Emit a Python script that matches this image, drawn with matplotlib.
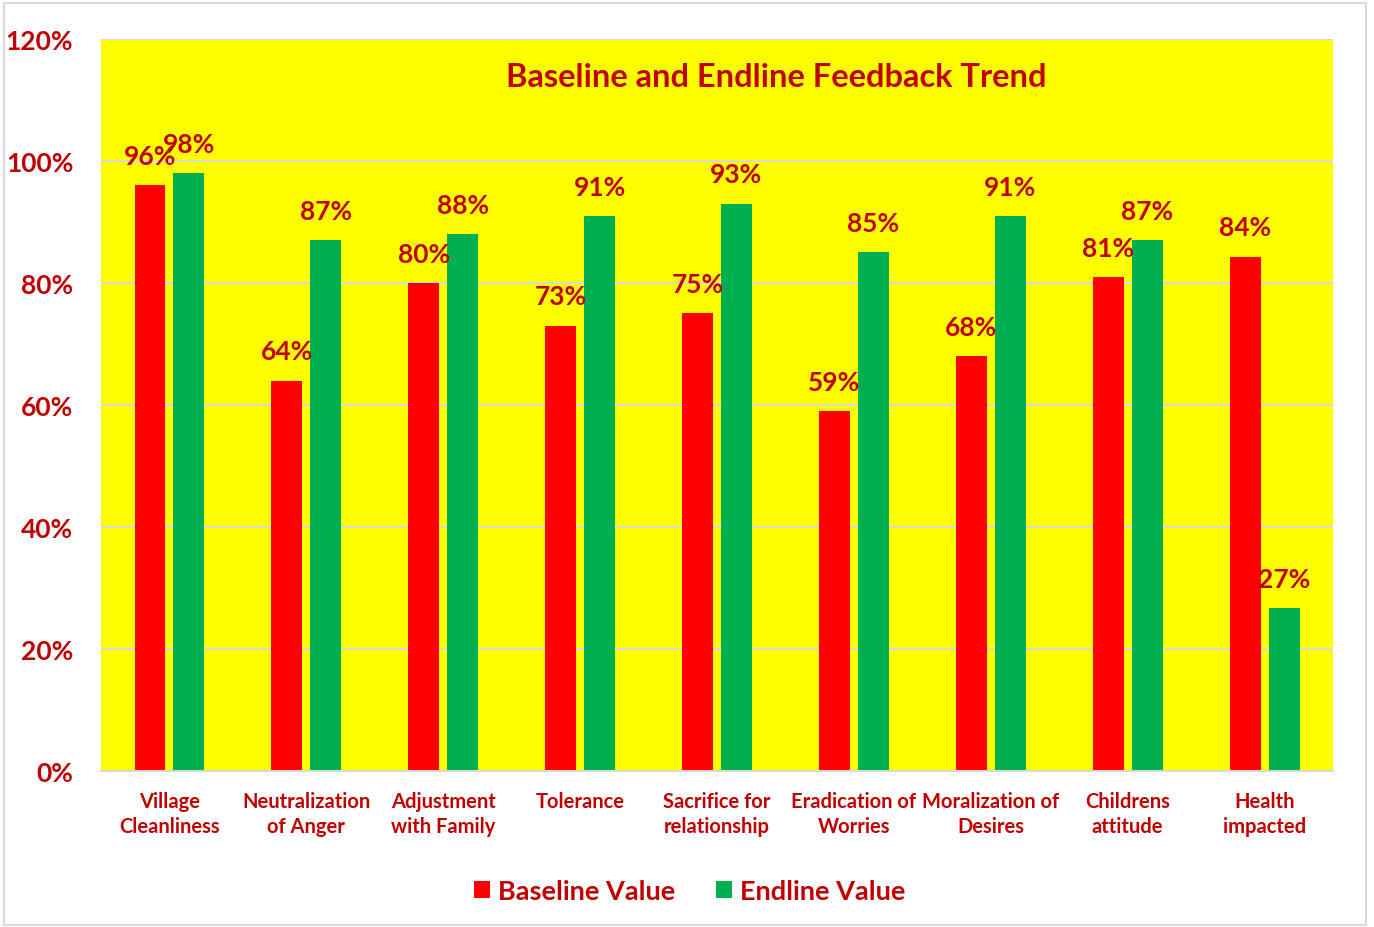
import numpy as np
import matplotlib
matplotlib.use('Agg')
import matplotlib.pyplot as plt
from matplotlib.patches import Rectangle
from matplotlib.ticker import FuncFormatter, MultipleLocator

plt.rcParams['font.family'] = ['Lato', 'DejaVu Sans']
plt.rcParams['font.weight'] = 'bold'

categories = ['Village\nCleanliness', 'Neutralization\nof Anger', 'Adjustment\nwith Family',
              'Tolerance', 'Sacrifice for\nrelationship', 'Eradication of\nWorries',
              'Moralization of\nDesires', 'Childrens\nattitude', 'Health\nimpacted']
baseline = [0.96, 0.64, 0.80, 0.73, 0.75, 0.59, 0.68, 0.81, 0.843]
endline = [0.98, 0.87, 0.88, 0.91, 0.93, 0.85, 0.91, 0.87, 0.267]

DARK_RED = '#C00000'
RED = '#FF0000'
GREEN = '#00B050'
YELLOW = '#FFFF00'

fig = plt.figure(figsize=(13.74, 9.28), dpi=100)
fig.patches.append(Rectangle((0.003, 0.002), 0.991, 0.994, transform=fig.transFigure,
                             fill=False, edgecolor='#D9D9D9', linewidth=1.5))
ax = fig.add_axes([0.0735, 0.168, 0.8967, 0.789])
ax.set_facecolor(YELLOW)

x = np.arange(len(categories))
w = 0.226
off = 0.142
b1 = ax.bar(x - off, baseline, w, color=RED, label='Baseline Value', zorder=3)
b2 = ax.bar(x + off, endline, w, color=GREEN, label='Endline Value', zorder=3)

for bars, vals in ((b1, baseline), (b2, endline)):
    for r, v in zip(bars, vals):
        ax.text(r.get_x() + r.get_width() / 2, v + 0.048, '{:.0f}%'.format(v * 100),
                ha='center', va='center', fontsize=19, fontweight='bold', color=DARK_RED, zorder=4)

ax.set_xlim(-0.5, len(categories) - 0.5)
ax.set_ylim(0, 1.2)
ax.yaxis.set_major_locator(MultipleLocator(0.2))
ax.yaxis.set_major_formatter(FuncFormatter(lambda v, p: '{:.0f}%'.format(v * 100)))
ax.grid(axis='y', color='#D9D9D9', linewidth=1.5, zorder=0)
ax.set_axisbelow(True)

for s in ['top', 'right', 'left']:
    ax.spines[s].set_visible(False)
ax.spines['bottom'].set_color('#D9D9D9')
ax.spines['bottom'].set_linewidth(1.5)
ax.spines['bottom'].set_zorder(5)

ax.set_xticks(x)
ax.set_xticklabels(categories, fontsize=14.5, fontweight='bold', color=DARK_RED, linespacing=1.35)
ax.tick_params(axis='x', length=0, pad=14)
ax.tick_params(axis='y', length=0, pad=20, labelsize=19, labelcolor=DARK_RED)

ax.text(0.548, 0.948, 'Baseline and Endline Feedback Trend', transform=ax.transAxes,
        ha='center', va='center', fontsize=23.5, fontweight='bold', color=DARK_RED)

leg = fig.legend(handles=[b1, b2], loc='center', bbox_to_anchor=(0.502, 0.039), ncol=2,
                 frameon=False, fontsize=19.5, handlelength=0.6, handleheight=0.6,
                 handletextpad=0.3, columnspacing=1.5)
for t in leg.get_texts():
    t.set_color(DARK_RED)
    t.set_fontweight('bold')

fig.savefig('out.png', dpi=100, facecolor='white')
